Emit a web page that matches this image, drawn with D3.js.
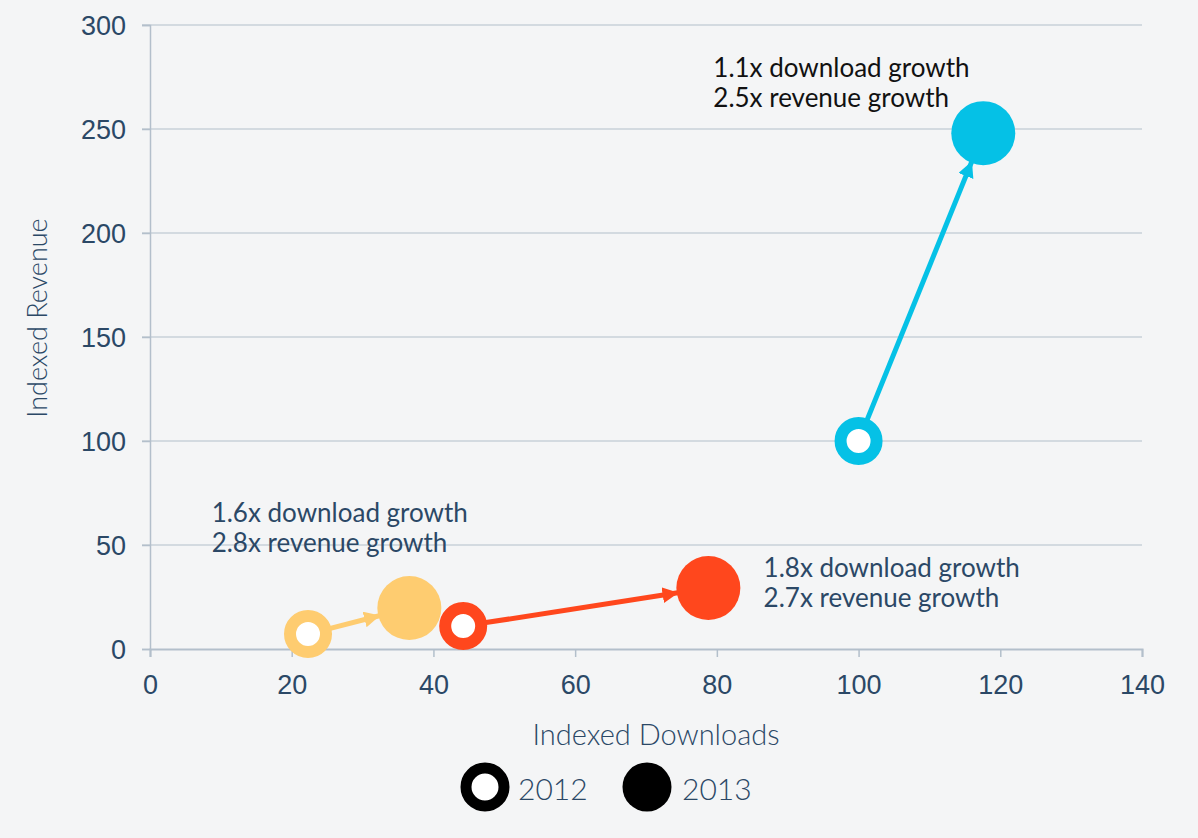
<!DOCTYPE html>
<html><head><meta charset="utf-8">
<script src="https://cdn.jsdelivr.net/npm/d3@7"></script>
<style>
html,body{margin:0;padding:0;background:#f4f5f6;}
svg{display:block;}
</style></head>
<body>
<script>
// ---- data ----
const groups = ["yellow", "red", "cyan"];
const colors = ["#fecc70", "#ff471d", "#05c1e6"];
const downloads2012 = [22.3, 44.2, 100];
const revenue2012 = [7.2, 11, 100];
const downloads2013 = [36.6, 78.8, 117.6];
const revenue2013 = [19.7, 29.3, 248];
const labelLines = [
  ["1.6x download growth", "2.8x revenue growth"],
  ["1.8x download growth", "2.7x revenue growth"],
  ["1.1x download growth", "2.5x revenue growth"]
];
const labelAnchorX = [8.7, 86.6, 79.5];
const labelAnchorY = [61, 34.6, 275];
const labelColors = ["#2b4866", "#2b4866", "#111111"];
const xTicks = [0, 20, 40, 60, 80, 100, 120, 140];
const yTicks = [0, 50, 100, 150, 200, 250, 300];
const legendYears = ["2012", "2013"];

const W = 1198, H = 838;
const svg = d3.select("body").append("svg").attr("width", W).attr("height", H);
svg.append("rect").attr("width", W).attr("height", H).attr("fill", "#f4f5f6");

const x = d3.scaleLinear().domain([0, 140]).range([150, 1142]);
const y = d3.scaleLinear().domain([0, 300]).range([649, 25]);

const textColor = "#2b4866";
const gridColor = "#c9d0d8";
const axisColor = "#b3bfcb";

// gridlines
svg.append("g").selectAll("line").data(yTicks.filter(d => d > 0)).join("line")
  .attr("x1", 142).attr("x2", x(140))
  .attr("y1", d => y(d)).attr("y2", d => y(d))
  .attr("stroke", gridColor).attr("stroke-width", 1.5);

// y axis
const yAxis = svg.append("g").attr("transform", `translate(${x(0)},0)`)
  .call(d3.axisLeft(y).tickValues(yTicks).tickSize(8).tickPadding(16));
yAxis.select(".domain").attr("stroke", axisColor).attr("stroke-width", 1.5);
yAxis.selectAll(".tick line").attr("stroke", axisColor).attr("stroke-width", 1.5);
yAxis.selectAll(".tick text").attr("fill", textColor)
  .style("font-family", "'Liberation Sans', Arial, sans-serif").style("font-size", "27px")
  .attr("dy", "0.36em");

// x axis
const xAxis = svg.append("g").attr("transform", `translate(0,${y(0)})`)
  .call(d3.axisBottom(x).tickValues(xTicks).tickSize(8).tickSizeOuter(8).tickPadding(18));
xAxis.select(".domain").attr("stroke", axisColor).attr("stroke-width", 2);
xAxis.selectAll(".tick line").attr("stroke", axisColor).attr("stroke-width", 1.5);
xAxis.selectAll(".tick text").attr("fill", textColor)
  .style("font-family", "'Liberation Sans', Arial, sans-serif").style("font-size", "27px");

const futura = "Lato, 'Open Sans', sans-serif";

// axis titles
svg.append("text").attr("x", (x(0) + x(140)) / 2 + 10).attr("y", 745)
  .attr("text-anchor", "middle").attr("fill", textColor)
  .style("font-family", futura).style("font-size", "29px").style("font-weight", 300)
  .text("Indexed Downloads");
svg.append("text").attr("transform", `translate(47,318) rotate(-90)`)
  .attr("text-anchor", "middle").attr("fill", textColor)
  .style("font-family", futura).style("font-size", "27px").style("font-weight", 300)
  .text("Indexed Revenue");

// markers
const defs = svg.append("defs");
groups.forEach((g, i) => {
  defs.append("marker").attr("id", "arrow-" + g)
    .attr("viewBox", "0 0 10 10").attr("refX", 9.5).attr("refY", 5)
    .attr("markerWidth", 3.2).attr("markerHeight", 3.2).attr("markerUnits", "strokeWidth")
    .attr("orient", "auto")
    .append("path").attr("d", "M0,0 L10,5 L0,10 z").attr("fill", colors[i]);
});

const ringR = 18, ringW = 12, fillR = 32;
groups.forEach((g, i) => {
  const x0 = x(downloads2012[i]), y0 = y(revenue2012[i]);
  const x1 = x(downloads2013[i]), y1 = y(revenue2013[i]);
  const dx = x1 - x0, dy = y1 - y0, len = Math.hypot(dx, dy);
  const ux = dx / len, uy = dy / len;
  const sR = ringR + ringW / 2 - 1;
  svg.append("line")
    .attr("x1", x0 + ux * sR).attr("y1", y0 + uy * sR)
    .attr("x2", x1 - ux * (fillR - 1)).attr("y2", y1 - uy * (fillR - 1))
    .attr("stroke", colors[i]).attr("stroke-width", 5)
    .attr("marker-end", `url(#arrow-${g})`);
  svg.append("circle").attr("cx", x0).attr("cy", y0).attr("r", ringR)
    .attr("fill", "#ffffff").attr("stroke", colors[i]).attr("stroke-width", ringW);
  svg.append("circle").attr("cx", x1).attr("cy", y1).attr("r", fillR)
    .attr("fill", colors[i]);
});

// annotations
groups.forEach((g, i) => {
  const t = svg.append("text").attr("x", x(labelAnchorX[i])).attr("y", y(labelAnchorY[i]))
    .attr("fill", labelColors[i])
    .style("font-family", futura).style("font-size", "26px").style("font-weight", 400);
  labelLines[i].forEach((line, j) => {
    t.append("tspan").attr("x", x(labelAnchorX[i])).attr("dy", j === 0 ? 0 : 30).text(line);
  });
});

// legend
const legend = svg.append("g");
legend.append("circle").attr("cx", 485).attr("cy", 787).attr("r", 19)
  .attr("fill", "#ffffff").attr("stroke", "#000").attr("stroke-width", 11);
legend.append("text").attr("x", 518).attr("y", 800).attr("fill", textColor)
  .style("font-family", futura).style("font-size", "30px").style("font-weight", 300)
  .text(legendYears[0]);
legend.append("circle").attr("cx", 647).attr("cy", 787).attr("r", 24.5).attr("fill", "#000");
legend.append("text").attr("x", 682).attr("y", 800).attr("fill", textColor)
  .style("font-family", futura).style("font-size", "30px").style("font-weight", 300)
  .text(legendYears[1]);
</script>
</body></html>
